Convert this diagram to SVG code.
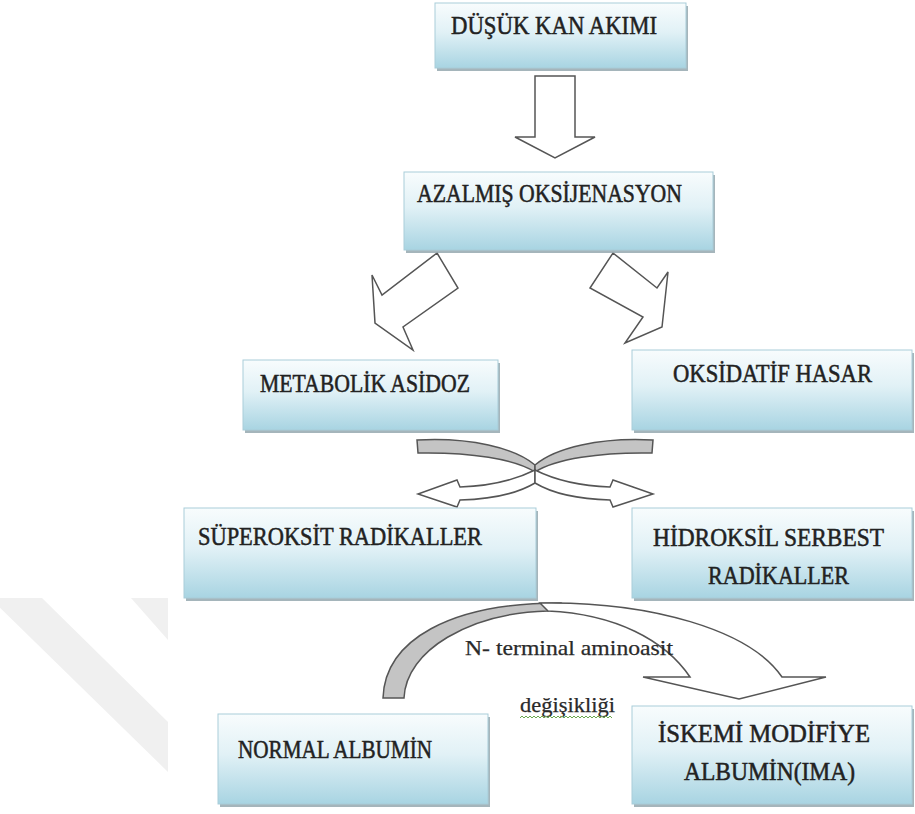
<svg xmlns="http://www.w3.org/2000/svg" width="915" height="814" viewBox="0 0 915 814">
<defs>
<linearGradient id="bx" x1="0" y1="0" x2="0" y2="1">
<stop offset="0" stop-color="#f8fcfd"/>
<stop offset="0.45" stop-color="#e1f1f6"/>
<stop offset="1" stop-color="#a8d4e2"/>
</linearGradient>
<clipPath id="wm"><rect x="0" y="598" width="168" height="216"/></clipPath>
</defs>
<style>
.box{fill:url(#bx);stroke:#a9cdd9;stroke-width:1}
.sh{fill:#8fa2aa;opacity:0.8}
.t{font-family:"Liberation Serif","DejaVu Serif",serif;font-size:25px;fill:#222222;stroke:#222222;stroke-width:0.5}
.lbl{font-family:"Liberation Serif","DejaVu Serif",serif;font-size:22px;fill:#2a2a2a;stroke:#2a2a2a;stroke-width:0.25}
.wa{fill:#ffffff;stroke:#555555;stroke-width:1.5;stroke-linejoin:miter}
.ga{fill:#c4c4c4;stroke:#555555;stroke-width:1.5}
</style>
<rect width="915" height="814" fill="#ffffff"/>
<g id="watermark" clip-path="url(#wm)" fill="#f0f0f0">
<polygon points="-10,598 42,598 168,722 168,772"/>
<polygon points="131,598 185,598 168,640"/>
</g>
<g id="connectors">
<polygon class="wa" points="535,76 575,76 575,137 595,137 555,158 515,137 535,137"/>
<polygon class="wa" points="437,253 458,288 403,327 413,350 375,323 372,275 382,295"/>
<polygon class="wa" points="613,253 657,288 668,272 662,327 625,343 643,317 590,288"/>
<path class="ga" d="M417,440 C470,437 515,448 535,465 L535,472 C515,459 470,452 418,453 Z"/>
<path class="ga" d="M653,440 C600,437 555,448 535,465 L535,472 C555,459 600,452 652,453 Z"/>
<path class="wa" d="M535,470 C515,480 490,486 460,487 L457,480 L418,494 L457,507 L460,500 C495,499 520,492 535,483 Z"/>
<path class="wa" d="M535,470 C555,480 580,486 610,487 L613,480 L653,494 L613,507 L610,500 C575,499 550,492 535,483 Z"/>
<path class="ga" d="M383,698 C385,640 450,603 560,603 L548,611 C470,613 406,650 404,698 Z"/>
<path class="wa" d="M540,603 C650,601 750,630 782,677 L826,677 L739,699 L643,677 L690,677 C665,640 615,614 548,611 Z"/>
</g>
<g id="n1"><rect class="sh" x="437" y="6" width="251" height="65"/><rect class="box" x="435" y="3" width="251" height="65"/><text class="t" x="451" y="34" textLength="206" lengthAdjust="spacingAndGlyphs">DÜŞÜK KAN AKIMI</text></g>
<g id="n2"><rect class="sh" x="406" y="175" width="309" height="78"/><rect class="box" x="404" y="172" width="309" height="78"/><text class="t" x="417" y="202" textLength="265" lengthAdjust="spacingAndGlyphs">AZALMIŞ OKSİJENASYON</text></g>
<g id="n3"><rect class="sh" x="245" y="363" width="255" height="70"/><rect class="box" x="243" y="360" width="255" height="70"/><text class="t" x="260" y="392" textLength="210" lengthAdjust="spacingAndGlyphs">METABOLİK ASİDOZ</text></g>
<g id="n4"><rect class="sh" x="634" y="353" width="280" height="80"/><rect class="box" x="632" y="350" width="280" height="80"/><text class="t" x="673" y="382" textLength="199" lengthAdjust="spacingAndGlyphs">OKSİDATİF HASAR</text></g>
<g id="n5"><rect class="sh" x="186" y="511" width="352" height="90"/><rect class="box" x="184" y="508" width="352" height="90"/><text class="t" x="198" y="545" textLength="284" lengthAdjust="spacingAndGlyphs">SÜPEROKSİT RADİKALLER</text></g>
<g id="n6"><rect class="sh" x="634" y="511" width="280" height="90"/><rect class="box" x="632" y="508" width="280" height="90"/><text class="t" x="653" y="546" textLength="231" lengthAdjust="spacingAndGlyphs">HİDROKSİL SERBEST</text><text class="t" x="708" y="584" textLength="141" lengthAdjust="spacingAndGlyphs">RADİKALLER</text></g>
<g id="n7"><rect class="sh" x="220" y="717" width="270" height="90"/><rect class="box" x="218" y="714" width="270" height="90"/><text class="t" x="238" y="758" textLength="194" lengthAdjust="spacingAndGlyphs">NORMAL ALBUMİN</text></g>
<g id="n8"><rect class="sh" x="634" y="709" width="280" height="98"/><rect class="box" x="632" y="706" width="280" height="98"/><text class="t" x="658" y="742" textLength="212" lengthAdjust="spacingAndGlyphs">İSKEMİ MODİFİYE</text><text class="t" x="684" y="780" textLength="171" lengthAdjust="spacingAndGlyphs">ALBUMİN(IMA)</text></g>
<g id="labels">
<text class="lbl" x="465" y="655" textLength="208" lengthAdjust="spacingAndGlyphs">N- terminal aminoasit</text>
<text class="lbl" x="520" y="712" textLength="95" lengthAdjust="spacingAndGlyphs">değişikliği</text>
<path d="M520,718 l2,-2 l2,2 l2,-2 l2,2 l2,-2 l2,2 l2,-2 l2,2 l2,-2 l2,2 l2,-2 l2,2 l2,-2 l2,2 l2,-2 l2,2 l2,-2 l2,2 l2,-2 l2,2 l2,-2 l2,2 l2,-2 l2,2 l2,-2 l2,2 l2,-2 l2,2 l2,-2 l2,2 l2,-2 l2,2 l2,-2 l2,2 l2,-2 l2,2 l2,-2 l2,2 l2,-2 l2,2 l2,-2 l2,2 l2,-2 l2,2 l2,-2 l2,2" fill="none" stroke="#6aa84f" stroke-width="1"/>
</g>
</svg>
